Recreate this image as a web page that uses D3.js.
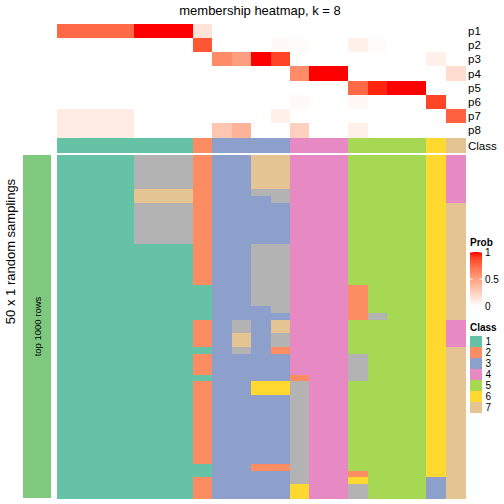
<!DOCTYPE html>
<html><head><meta charset="utf-8">
<script src="https://cdn.jsdelivr.net/npm/d3@7/dist/d3.min.js"></script>
<style>body{margin:0;background:#fff} svg{display:block} text{font-family:"Liberation Sans",Arial,Helvetica,sans-serif;fill:#000} rect{shape-rendering:crispEdges}</style>
</head><body><svg id="c" width="504" height="504"></svg>
<script>
// ---- data ----
const title = "membership heatmap, k = 8";
const probRowNames = ["p1","p2","p3","p4","p5","p6","p7","p8"];
const p1 = [0.75,0.75,0.75,0.75,1,1,1,0.15,0,0,0,0,0,0,0,0,0,0,0,0,0];
const p2 = [0,0,0,0,0,0,0,0.82,0,0,0,0.03,0.02,0,0,0.08,0.02,0,0,0,0];
const p3 = [0,0,0,0,0,0,0,0,0.6,0.5,1,0.88,0,0,0,0,0,0,0,0.08,0];
const p4 = [0,0,0,0,0,0,0,0,0,0,0,0,0.6,1,1,0,0,0,0,0,0.18];
const p5 = [0,0,0,0,0,0,0,0,0,0,0,0,0,0,0,0.75,0.96,1,1,0,0];
const p6 = [0,0,0,0,0,0,0,0,0,0,0,0,0.03,0,0,0.04,0,0,0,0.88,0];
const p7 = [0.1,0.1,0.1,0.1,0,0,0,0,0,0,0,0.08,0,0,0,0,0,0,0,0,0.78];
const p8 = [0.1,0.1,0.1,0.1,0,0,0,0,0.3,0.4,0,0,0.25,0,0,0.08,0,0,0,0,0];
const classRow = [1,1,1,1,1,1,1,2,3,3,3,3,4,4,4,5,5,5,5,6,7];
const classLabels = ["1","2","3","4","5","6","7"];
const classColors = ["#66C2A5","#FC8D62","#8DA0CB","#E78AC3","#A6D854","#FFD92F","#E5C494","#B3B3B3"];
// class of each of 50 random samplings, one string per column (8 = unassigned / grey)
const samplingClass = [
  "11111111111111111111111111111111111111111111111111",
  "11111111111111111111111111111111111111111111111111",
  "11111111111111111111111111111111111111111111111111",
  "11111111111111111111111111111111111111111111111111",
  "88888778888881111111111111111111111111111111111111",
  "88888778888881111111111111111111111111111111111111",
  "88888778888881111111111111111111111111111111111111",
  "22222222222222222221111122221222122222222222211222",
  "33333333333333333333333333333333333333333333333333",
  "33333333333333333333333388778333333333333333333333",
  "77777833333338888888883333333333366333333333323333",
  "77777883333338888888888377882333366333333333323333",
  "44444444444444444444444444444444288888888888888866",
  "44444444444444444444444444444444444444444444444444",
  "44444444444444444444444444444444444444444444444444",
  "55555555555555555552222255555888855555555555552688",
  "55555555555555555555555855555555555555555555555555",
  "55555555555555555555555555555555555555555555555555",
  "55555555555555555555555555555555555555555555555555",
  "66666666666666666666666666666666666666666666666333",
  "44444447777777777777777744447777777777777777777777"
];
const probTicks = [0, 0.5, 1];
const sideLabel = "50 x 1 random samplings";
const barLabel = "top 1000 rows";

// ---- drawing ----
const svg = d3.select("#c");
const probs = [p1,p2,p3,p4,p5,p6,p7,p8];
const nCol = classRow.length;
const nSamp = samplingClass[0].length;

const x = d3.scaleBand().domain(d3.range(nCol)).range([56.7, 465]);
const yTop = d3.scaleBand().domain(probRowNames).range([24, 137.2]);
const yMain = d3.scaleBand().domain(d3.range(nSamp)).range([155, 498]);
const probColor = d3.scaleLinear().domain([0,1]).range(["#ffffff","#ff0000"]).interpolate(d3.interpolateLab);
const classColor = d3.scaleOrdinal().domain([1,2,3,4,5,6,7,8]).range(classColors);

svg.append("text").attr("x", 260).attr("y", 15).attr("text-anchor","middle")
  .attr("font-size", 13).text(title);

// probability rows
probRowNames.forEach((name, r) => {
  svg.append("g").selectAll("rect").data(probs[r]).join("rect")
    .attr("x", (d,i) => x(i)).attr("y", yTop(name))
    .attr("width", x.bandwidth() + 0.6).attr("height", yTop.bandwidth() + 0.6)
    .attr("fill", d => probColor(d));
  svg.append("text").attr("x", 468).attr("y", yTop(name) + yTop.bandwidth()/2 + 4)
    .attr("font-size", 11.5).text(name);
});

// class row
const classY = 138.3, classH = 14.4;
svg.append("g").selectAll("rect").data(classRow).join("rect")
  .attr("x", (d,i) => x(i)).attr("y", classY)
  .attr("width", x.bandwidth() + 0.6).attr("height", classH)
  .attr("fill", d => classColor(d));
svg.append("text").attr("x", 468).attr("y", classY + classH/2 + 4)
  .attr("font-size", 11.5).text("Class");

// main grid
const cells = [];
samplingClass.forEach((s, c) => { for (let r = 0; r < s.length; r++) cells.push({c, r, v: +s[r]}); });
svg.append("g").selectAll("rect").data(cells).join("rect")
  .attr("x", d => x(d.c)).attr("y", d => yMain(d.r))
  .attr("width", x.bandwidth() + 0.6).attr("height", yMain.bandwidth() + 0.6)
  .attr("fill", d => classColor(d.v));

// left side bar
svg.append("rect").attr("x", 22.7).attr("y", 155).attr("width", 28).attr("height", 343).attr("fill", "#7FC97F");
svg.append("text").attr("transform", "translate(40.5,326.5) rotate(-90)").attr("text-anchor","middle")
  .attr("font-size", 9.5).text(barLabel);
svg.append("text").attr("transform", "translate(15,251.5) rotate(-90)").attr("text-anchor","middle")
  .attr("font-size", 13).text(sideLabel);

// legends
const lg = svg.append("g");
lg.append("text").attr("x", 470).attr("y", 246).attr("font-size", 10).attr("font-weight","bold").text("Prob");
const defs = svg.append("defs");
const grad = defs.append("linearGradient").attr("id","pg").attr("x1",0).attr("y1",1).attr("x2",0).attr("y2",0);
d3.range(0, 1.01, 0.1).forEach(t => grad.append("stop").attr("offset", t).attr("stop-color", probColor(t)));
const yLeg = d3.scaleLinear().domain([0,1]).range([306, 252]);
lg.append("rect").attr("x", 470).attr("y", 252).attr("width", 12).attr("height", 54).attr("fill","url(#pg)");
probTicks.forEach(t => {
  lg.append("line").attr("x1",470).attr("x2",472.5).attr("y1",yLeg(t)).attr("y2",yLeg(t)).attr("stroke","#fff");
  lg.append("line").attr("x1",479.5).attr("x2",482).attr("y1",yLeg(t)).attr("y2",yLeg(t)).attr("stroke","#fff");
  lg.append("text").attr("x", 485).attr("y", yLeg(t) + 3.5).attr("font-size", 10).text(t);
});
lg.append("text").attr("x", 470).attr("y", 331).attr("font-size", 10).attr("font-weight","bold").text("Class");
const ySw = d3.scaleBand().domain(classLabels).range([336, 413]);
classLabels.forEach((lab, i) => {
  lg.append("rect").attr("x", 470).attr("y", ySw(lab)).attr("width", 12).attr("height", ySw.bandwidth())
    .attr("fill", classColors[i]);
  lg.append("text").attr("x", 485.5).attr("y", ySw(lab) + ySw.bandwidth()/2 + 3.5).attr("font-size", 10).text(lab);
});
</script></body></html>
